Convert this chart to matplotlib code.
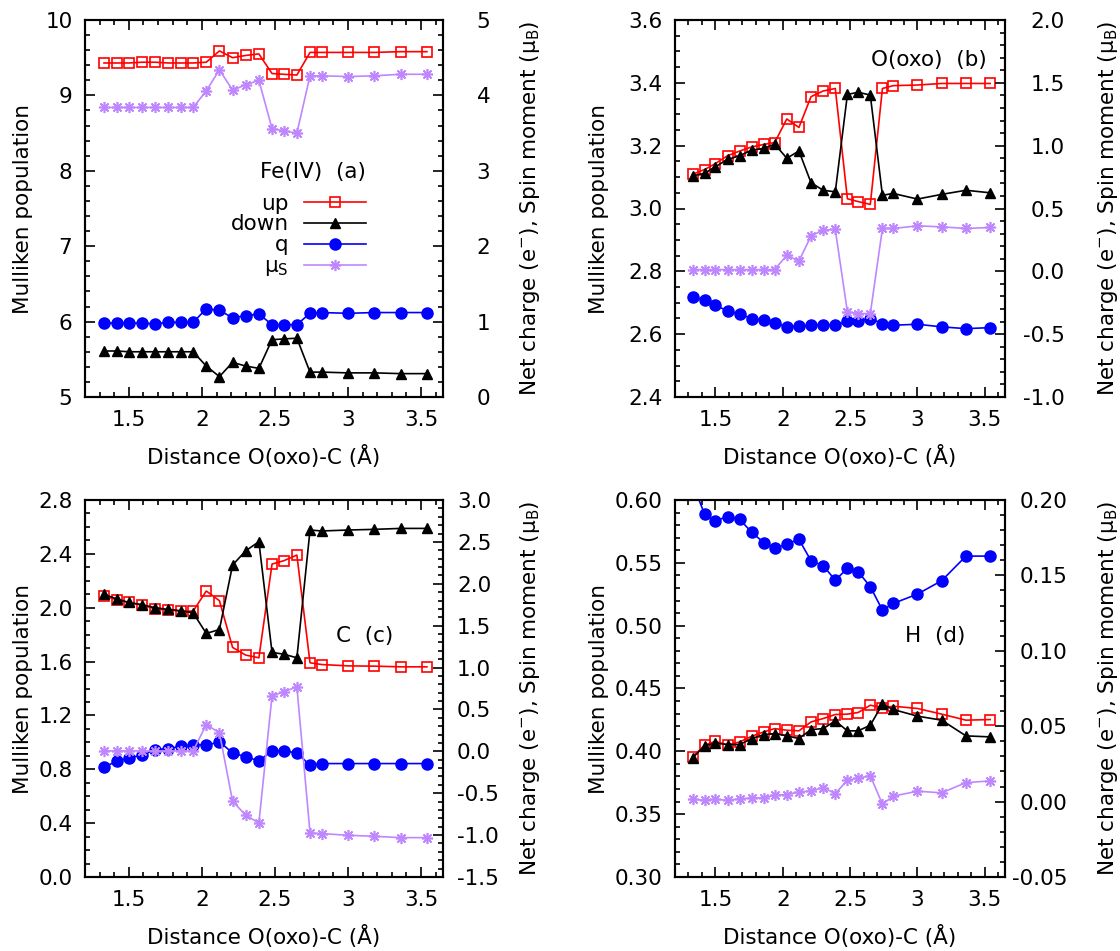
import matplotlib
matplotlib.use('Agg')
import matplotlib.pyplot as plt
from matplotlib.ticker import MultipleLocator, FormatStrFormatter

# O(oxo)-C distance (Angstrom)
dist = [1.33, 1.42, 1.50, 1.59, 1.68, 1.77, 1.86, 1.94, 2.03, 2.12, 2.21,
        2.30, 2.39, 2.48, 2.56, 2.65, 2.74, 2.82, 3.00, 3.18, 3.36, 3.54]

# (a) Fe(IV)
fe_up = [9.43, 9.43, 9.43, 9.44, 9.44, 9.43, 9.43, 9.43, 9.44, 9.59, 9.50,
         9.53, 9.55, 9.29, 9.28, 9.27, 9.57, 9.57, 9.57, 9.57, 9.58, 9.58]
fe_down = [5.61, 5.61, 5.60, 5.60, 5.60, 5.60, 5.60, 5.60, 5.41, 5.27, 5.46,
           5.41, 5.38, 5.76, 5.77, 5.78, 5.33, 5.33, 5.32, 5.32, 5.31, 5.31]
fe_q = [0.98, 0.98, 0.98, 0.98, 0.97, 0.99, 0.99, 0.99, 1.17, 1.15, 1.05,
        1.08, 1.10, 0.96, 0.96, 0.96, 1.11, 1.12, 1.11, 1.12, 1.12, 1.12]
fe_mu = [3.84, 3.84, 3.84, 3.84, 3.84, 3.84, 3.84, 3.84, 4.06, 4.34, 4.07,
         4.14, 4.20, 3.56, 3.53, 3.50, 4.26, 4.26, 4.25, 4.26, 4.28, 4.28]

# (b) O(oxo)
o_up = [3.109, 3.124, 3.143, 3.168, 3.183, 3.196, 3.204, 3.210, 3.285, 3.258, 3.356,
        3.374, 3.382, 3.031, 3.022, 3.013, 3.382, 3.391, 3.393, 3.398, 3.398, 3.398]
o_down = [3.104, 3.112, 3.133, 3.156, 3.168, 3.186, 3.191, 3.205, 3.160, 3.183, 3.082,
          3.058, 3.053, 3.363, 3.370, 3.361, 3.042, 3.048, 3.030, 3.045, 3.058, 3.050]
o_q = [-0.203, -0.230, -0.270, -0.315, -0.341, -0.376, -0.389, -0.410, -0.442, -0.437, -0.429,
       -0.424, -0.429, -0.395, -0.395, -0.376, -0.416, -0.429, -0.421, -0.442, -0.456, -0.448]
o_mu = [0.014, 0.014, 0.014, 0.014, 0.014, 0.014, 0.014, 0.014, 0.128, 0.081, 0.282,
        0.328, 0.333, -0.323, -0.336, -0.336, 0.341, 0.341, 0.362, 0.354, 0.341, 0.349]

# (c) C
c_up = [2.089, 2.057, 2.039, 2.019, 1.992, 1.982, 1.975, 1.975, 2.124, 2.052, 1.705,
        1.648, 1.628, 2.324, 2.349, 2.391, 1.591, 1.578, 1.568, 1.566, 1.561, 1.561]
c_down = [2.099, 2.064, 2.039, 2.022, 2.000, 1.987, 1.977, 1.962, 1.809, 1.838, 2.317,
          2.423, 2.490, 1.668, 1.655, 1.628, 2.577, 2.570, 2.577, 2.582, 2.589, 2.589]
c_q = [-0.186, -0.118, -0.078, -0.046, 0.021, 0.033, 0.061, 0.081, 0.073, 0.113, -0.018,
       -0.066, -0.114, 0.005, 0.005, -0.018, -0.166, -0.146, -0.146, -0.146, -0.146, -0.146]
c_mu = [0.005, 0.005, 0.005, 0.005, 0.005, 0.005, 0.005, 0.005, 0.320, 0.221, -0.596,
        -0.763, -0.855, 0.663, 0.711, 0.770, -0.974, -0.982, -1.002, -1.014, -1.030, -1.030]

# (d) H
h_up = [0.3956, 0.4049, 0.4080, 0.4049, 0.4075, 0.4120, 0.4155, 0.4181, 0.4168, 0.4163, 0.4234,
        0.4261, 0.4293, 0.4296, 0.4309, 0.4367, 0.4346, 0.4359, 0.4341, 0.4296, 0.4248, 0.4253]
h_down = [0.3948, 0.4043, 0.4067, 0.4054, 0.4054, 0.4102, 0.4133, 0.4141, 0.4123, 0.4102, 0.4173,
          0.4181, 0.4242, 0.4163, 0.4163, 0.4208, 0.4375, 0.4333, 0.4280, 0.4248, 0.4123, 0.4115]
h_q = [0.211, 0.1905, 0.1863, 0.1889, 0.1872, 0.1785, 0.1717, 0.1679, 0.1708, 0.1739, 0.1597,
       0.1564, 0.1469, 0.1546, 0.1524, 0.1425, 0.1270, 0.1314, 0.1376, 0.1465, 0.1628, 0.1628]
h_mu = [0.0015, 0.0009, 0.0015, 0.0009, 0.0018, 0.0025, 0.0025, 0.0042, 0.0047, 0.0064, 0.0071,
        0.0093, 0.0053, 0.0142, 0.0157, 0.0171, -0.0017, 0.0036, 0.0069, 0.0058, 0.0126, 0.0137]

RED = '#ff0000'
BLACK = '#000000'
BLUE = '#0000ff'
PURPLE = '#bf87ff'
FS = 15.5

plt.rcParams['font.family'] = 'DejaVu Sans'
plt.rcParams['font.size'] = FS

fig = plt.figure(figsize=(11.2, 9.51), dpi=100)
W, H = 1120.0, 951.0

# panel setup: (left px, right px, top px, bottom px, ylim, ytick, yminor, yfmt,
#               y2lim, y2tick, y2minor, y2fmt, y2 pad, y2 align, data..., title)
panels = [
    (85, 443, 20, 397, (5, 10), 1, 0.2, '%g', (0, 5), 1, 0.2, '%g', 34, 'right',
     fe_up, fe_down, fe_q, fe_mu, None),
    (675, 1005, 20, 397, (2.4, 3.6), 0.2, 0.05, '%.1f', (-1.0, 2.0), 0.5, 0.1, '%.1f', 43, 'right',
     o_up, o_down, o_q, o_mu, ('O(oxo)  (b)', 0.945, 0.895)),
    (85, 443, 500, 877, (0.0, 2.8), 0.4, 0.1, '%.1f', (-1.5, 3.0), 0.5, 0.1, '%.1f', 10, 'left',
     c_up, c_down, c_q, c_mu, ('C  (c)', 0.86, 0.64)),
    (675, 1005, 500, 877, (0.30, 0.60), 0.05, 0.01, '%.2f', (-0.05, 0.20), 0.05, 0.01, '%.2f', 45, 'right',
     h_up, h_down, h_q, h_mu, ('H  (d)', 0.88, 0.64)),
]

for (l, r, t, b, ylim, ymaj, ymin, yfmt, y2lim, y2maj, y2min, y2fmt, pad2, align2,
     up, down, q, mu, title) in panels:
    ax = fig.add_axes([l / W, (H - b) / H, (r - l) / W, (b - t) / H])
    ax2 = ax.twinx()

    lu, = ax.plot(dist, up, color=RED, lw=1.2, marker='s', ms=6.5, mfc='none',
                  mec=RED, mew=1.2, label='up')
    ld, = ax.plot(dist, down, color=BLACK, lw=1.2, marker='^', ms=7, label='down')
    lq, = ax2.plot(dist, q, color=BLUE, lw=1.2, marker='o', ms=8, label='q')
    lm, = ax2.plot(dist, mu, color=PURPLE, lw=1.2, marker=(8, 2, 0), ms=8, mew=1.2,
                   label='μ$_{\\mathrm{S}}$')

    ax.set_xlim(1.2, 3.65)
    ax.set_ylim(*ylim)
    ax2.set_ylim(*y2lim)

    ax.xaxis.set_major_locator(MultipleLocator(0.5))
    ax.xaxis.set_minor_locator(MultipleLocator(0.1))
    ax.xaxis.set_major_formatter(FormatStrFormatter('%g'))
    ax.yaxis.set_major_locator(MultipleLocator(ymaj))
    ax.yaxis.set_minor_locator(MultipleLocator(ymin))
    ax.yaxis.set_major_formatter(FormatStrFormatter(yfmt))
    ax2.yaxis.set_major_locator(MultipleLocator(y2maj))
    ax2.yaxis.set_minor_locator(MultipleLocator(y2min))
    ax2.yaxis.set_major_formatter(FormatStrFormatter(y2fmt))

    ax.tick_params(axis='x', which='both', direction='in', top=True, bottom=True, pad=9)
    ax.tick_params(axis='y', which='both', direction='in', left=True, right=False, pad=9)
    ax.tick_params(which='major', length=7.5, width=1.2)
    ax.tick_params(which='minor', length=3.8, width=1.2)
    ax2.tick_params(axis='y', which='both', direction='in', right=True, pad=pad2)
    ax2.tick_params(which='major', length=7.5, width=1.2)
    ax2.tick_params(which='minor', length=3.8, width=1.2)
    for lab in ax2.get_yticklabels():
        lab.set_horizontalalignment(align2)

    for s in ax.spines.values():
        s.set_linewidth(1.5)
    for s in ax2.spines.values():
        s.set_linewidth(1.5)

    ax.set_xlabel('Distance O(oxo)-C (Å)')
    ax.xaxis.set_label_coords(0.5, -0.128)
    ax.set_ylabel('Mulliken population')
    ax.yaxis.set_label_coords(-(l - 33) / (r - l) if l < 300 else -(l - 609) / (r - l), 0.5)
    ax2.set_ylabel('Net charge (e$^{\\mathrm{-}}$), Spin moment (μ$_{\\mathrm{B}}$)')
    rx = (518 if l < 300 else 1096)
    ax2.yaxis.set_label_coords((rx - l) / (r - l), 0.5)

    if title is None:
        leg = ax2.legend(handles=[lu, ld, lq, lm], title='Fe(IV)  (a)', markerfirst=False,
                         frameon=False, loc='upper right', bbox_to_anchor=(0.81, 0.645),
                         handlelength=2.9, handletextpad=0.7, labelspacing=0.04,
                         borderaxespad=0, fontsize=FS, title_fontsize=FS,
                         alignment='right')
        leg._legend_box.sep = 8
    else:
        ax2.text(title[1], title[2], title[0], transform=ax.transAxes,
                 ha='right', va='center', fontsize=FS)

fig.savefig('out.png', dpi=100)
